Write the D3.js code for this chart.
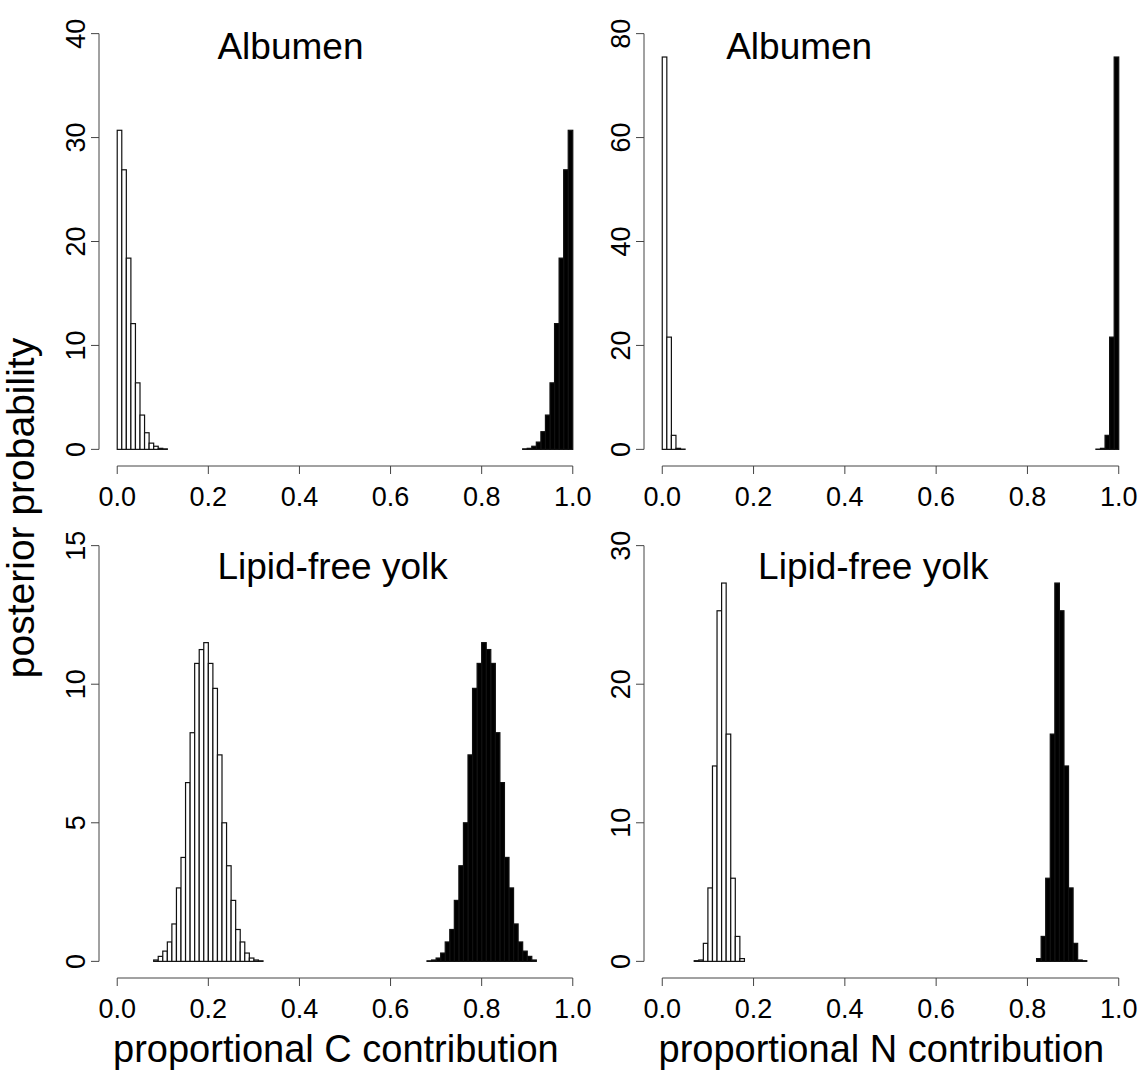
<!DOCTYPE html>
<html>
<head>
<meta charset="utf-8">
<script src="https://cdn.jsdelivr.net/npm/d3@7"></script>
<style>
  body { margin: 0; background: #fff; }
  text { font-family: "Liberation Sans", Arial, sans-serif; fill: #000; }
</style>
</head>
<body>
<div id="chart"></div>
<script>
// bin width of every histogram (proportion)
const binWidth = 0.01

// Albumen, carbon: left edges of bins and densities
const albCWhiteBins = [0.00, 0.01, 0.02, 0.03, 0.04, 0.05, 0.06, 0.07, 0.08, 0.09, 0.10]
const albCWhite     = [30.7, 26.9, 18.4, 12.1, 6.4, 3.3, 1.6, 0.6, 0.3, 0.1, 0.05]
const albCBlackBins = [0.99, 0.98, 0.97, 0.96, 0.95, 0.94, 0.93, 0.92, 0.91, 0.90, 0.89]
const albCBlack     = [30.7, 26.9, 18.4, 12.1, 6.4, 3.3, 1.7, 0.7, 0.3, 0.1, 0.05]

// Albumen, nitrogen
const albNWhiteBins = [0.00, 0.01, 0.02, 0.03, 0.04]
const albNWhite     = [75.5, 21.6, 2.7, 0.2, 0.05]
const albNBlackBins = [0.99, 0.98, 0.97, 0.96, 0.95]
const albNBlack     = [75.5, 21.6, 2.7, 0.2, 0.05]

// Lipid-free yolk, carbon
const yolkCWhiteBins = [0.08, 0.09, 0.10, 0.11, 0.12, 0.13, 0.14, 0.15, 0.16, 0.17, 0.18, 0.19,
                        0.20, 0.21, 0.22, 0.23, 0.24, 0.25, 0.26, 0.27, 0.28, 0.29, 0.30, 0.31]
const yolkCWhite     = [0.05, 0.18, 0.37, 0.7, 1.35, 2.65, 3.75, 6.45, 8.25, 10.75, 11.25, 11.5,
                        10.75, 9.85, 7.45, 5.0, 3.45, 2.2, 1.15, 0.7, 0.3, 0.12, 0.05, 0.02]
const yolkCBlackBins = [0.91, 0.90, 0.89, 0.88, 0.87, 0.86, 0.85, 0.84, 0.83, 0.82, 0.81, 0.80,
                        0.79, 0.78, 0.77, 0.76, 0.75, 0.74, 0.73, 0.72, 0.71, 0.70, 0.69, 0.68]
const yolkCBlack     = [0.05, 0.18, 0.37, 0.7, 1.35, 2.65, 3.75, 6.45, 8.25, 10.75, 11.25, 11.5,
                        10.75, 9.85, 7.45, 5.0, 3.45, 2.2, 1.15, 0.7, 0.3, 0.12, 0.05, 0.02]

// Lipid-free yolk, nitrogen
const yolkNWhiteBins = [0.07, 0.08, 0.09, 0.10, 0.11, 0.12, 0.13, 0.14, 0.15, 0.16, 0.17]
const yolkNWhite     = [0.05, 0.1, 1.3, 5.3, 14.1, 25.3, 27.3, 16.4, 6.0, 1.8, 0.2]
const yolkNBlackBins = [0.92, 0.91, 0.90, 0.89, 0.88, 0.87, 0.86, 0.85, 0.84, 0.83, 0.82]
const yolkNBlack     = [0.05, 0.1, 1.3, 5.3, 14.1, 25.3, 27.3, 16.4, 6.0, 1.8, 0.2]

const xTicks = [0, 0.2, 0.4, 0.6, 0.8, 1.0]
const panelTitles = ["Albumen", "Albumen", "Lipid-free yolk", "Lipid-free yolk"]
const xTitles = ["proportional C contribution", "proportional N contribution"]
const yTitle = "posterior probability"

// --

let width = 1139, height = 1072
let svg = d3.select("#chart").append("svg")
    .attr("width", width)
    .attr("height", height)
    .style("background", "#fff")

// plot regions (R style, axes extend 4% beyond data)
let panels = [
    { left: 99, right: 591, top: 17, bottom: 466, ymax: 40, yTicks: [0, 10, 20, 30, 40],
      white: [albCWhiteBins, albCWhite], black: [albCBlackBins, albCBlack],
      title: panelTitles[0], titleX: 0.22, titleY: 0.94 },
    { left: 644, right: 1137, top: 17, bottom: 466, ymax: 80, yTicks: [0, 20, 40, 60, 80],
      white: [albNWhiteBins, albNWhite], black: [albNBlackBins, albNBlack],
      title: panelTitles[1], titleX: 0.14, titleY: 0.94 },
    { left: 99, right: 591, top: 529, bottom: 978, ymax: 15, yTicks: [0, 5, 10, 15],
      white: [yolkCWhiteBins, yolkCWhite], black: [yolkCBlackBins, yolkCBlack],
      title: panelTitles[2], titleX: 0.22, titleY: 0.92, xTitle: xTitles[0] },
    { left: 644, right: 1137, top: 529, bottom: 978, ymax: 30, yTicks: [0, 10, 20, 30],
      white: [yolkNWhiteBins, yolkNWhite], black: [yolkNBlackBins, yolkNBlack],
      title: panelTitles[3], titleX: 0.21, titleY: 0.92, xTitle: xTitles[1] }
]

const tickLen = 8
const tickFont = 27

panels.forEach(p => {
    let x = d3.scaleLinear().domain([-0.04, 1.04]).range([p.left, p.right])
    let y = d3.scaleLinear().domain([-0.04 * p.ymax, 1.04 * p.ymax]).range([p.bottom, p.top])
    let g = svg.append("g")

    // histograms
    let drawHist = (bins, vals, fill) => {
        g.selectAll(null)
            .data(bins.map((b, i) => ({ x0: b, v: vals[i] })))
            .enter().append("rect")
            .attr("x", d => x(d.x0))
            .attr("width", d => x(d.x0 + binWidth) - x(d.x0))
            .attr("y", d => y(d.v))
            .attr("height", d => y(0) - y(d.v))
            .attr("fill", fill)
            .attr("stroke", "#111")
            .attr("stroke-width", 1.2)
    }
    drawHist(p.white[0], p.white[1], "#fff")
    drawHist(p.black[0], p.black[1], "#000")

    // x axis
    let xa = g.append("g").attr("transform", `translate(0,${p.bottom})`)
    xa.append("line")
        .attr("x1", x(xTicks[0])).attr("x2", x(xTicks[xTicks.length - 1]))
        .attr("stroke", "#444").attr("stroke-width", 1)
    xTicks.forEach(t => {
        xa.append("line")
            .attr("x1", x(t)).attr("x2", x(t)).attr("y1", 0).attr("y2", tickLen)
            .attr("stroke", "#444").attr("stroke-width", 1)
        xa.append("text")
            .attr("x", x(t)).attr("y", 40)
            .attr("text-anchor", "middle")
            .style("font-size", tickFont + "px")
            .text(d3.format(".1f")(t))
    })

    // y axis
    let ya = g.append("g").attr("transform", `translate(${p.left},0)`)
    ya.append("line")
        .attr("y1", y(p.yTicks[0])).attr("y2", y(p.yTicks[p.yTicks.length - 1]))
        .attr("stroke", "#444").attr("stroke-width", 1)
    p.yTicks.forEach(t => {
        ya.append("line")
            .attr("x1", -tickLen).attr("x2", 0).attr("y1", y(t)).attr("y2", y(t))
            .attr("stroke", "#444").attr("stroke-width", 1)
        ya.append("text")
            .attr("transform", `translate(-14,${y(t)}) rotate(-90)`)
            .attr("text-anchor", "middle")
            .style("font-size", tickFont + "px")
            .text(t)
    })

    // panel title
    g.append("text")
        .attr("x", x(p.titleX)).attr("y", y(p.titleY * p.ymax))
        .style("font-size", "37px")
        .text(p.title)

    if (p.xTitle) {
        g.append("text")
            .attr("x", x(0.48)).attr("y", p.bottom + 84)
            .attr("text-anchor", "middle")
            .style("font-size", "38px")
            .text(p.xTitle)
    }
})

svg.append("text")
    .attr("transform", "translate(34,508) rotate(-90)")
    .attr("text-anchor", "middle")
    .style("font-size", "39px")
    .text(yTitle)
</script>
</body>
</html>
